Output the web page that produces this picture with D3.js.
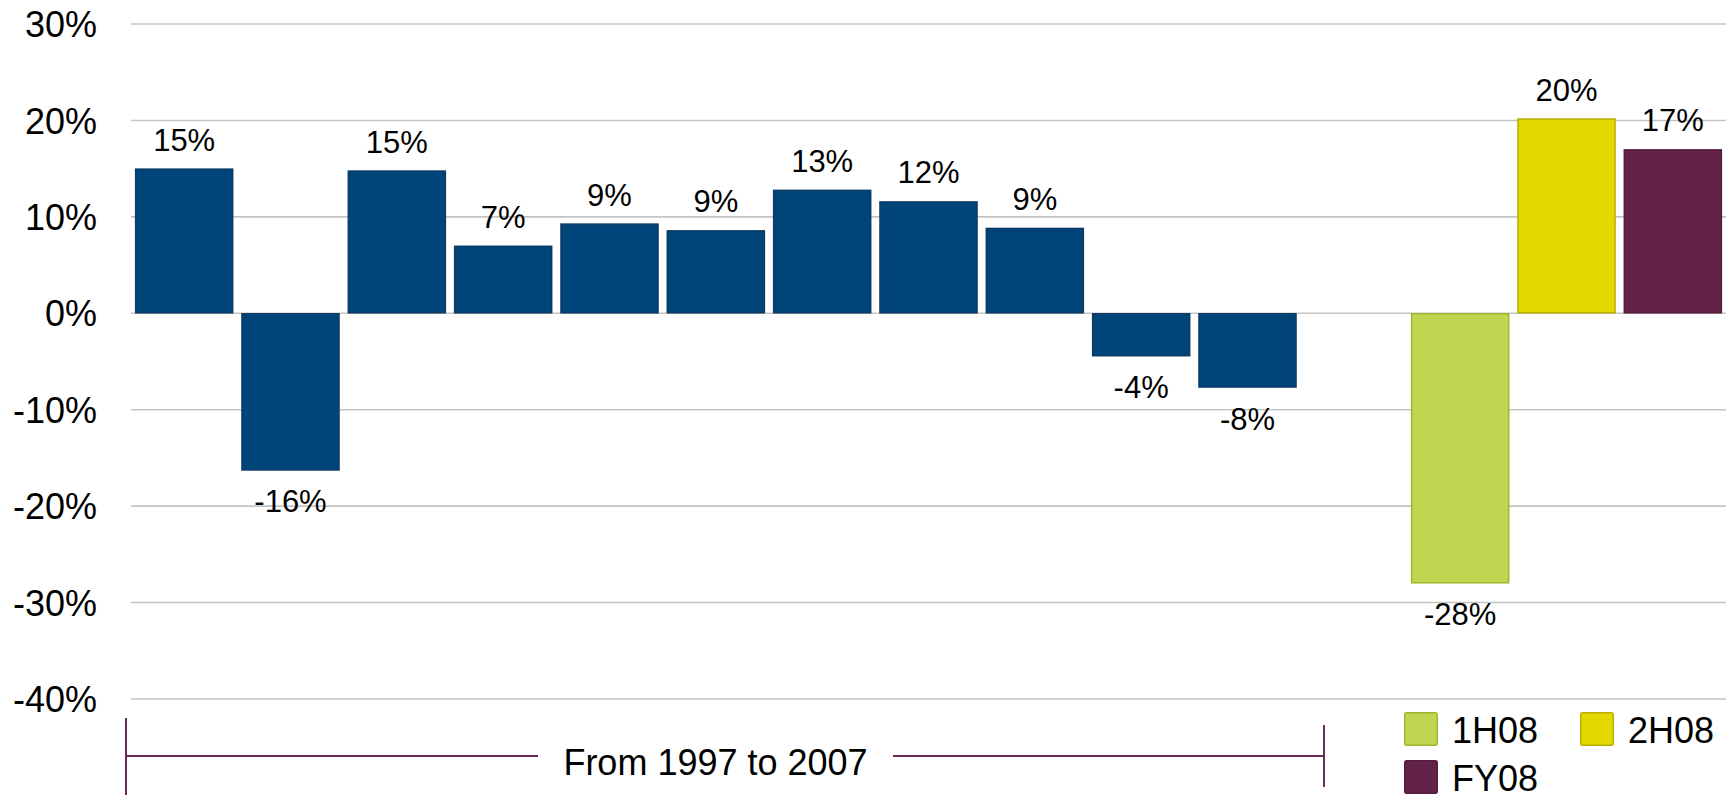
<!DOCTYPE html>
<html>
<head>
<meta charset="utf-8">
<script src="https://cdn.jsdelivr.net/npm/d3@7"></script>
<style>
  html, body { margin: 0; padding: 0; background: #ffffff; }
  svg { display: block; font-family: "Liberation Sans", Arial, sans-serif; }
</style>
</head>
<body>
<svg id="chart" width="1733" height="795"></svg>
<script>
// Yearly changes 1997–2007, then the 2008 half-years and full year
const years = ["1997", "1998", "1999", "2000", "2001", "2002", "2003", "2004", "2005", "2006", "2007"];
const yearValues = [0.150, -0.163, 0.148, 0.070, 0.093, 0.086, 0.128, 0.116, 0.0885, -0.0445, -0.077];

const periods = ["1H08", "2H08", "FY08"];
const periodValues = [-0.280, 0.202, 0.170];

const yTicks = [0.3, 0.2, 0.1, 0, -0.1, -0.2, -0.3, -0.4];
const rangeLabel = "From 1997 to 2007";

const colors = {
  years: { fill: "#00457a", stroke: "#0b3a64" },
  "1H08": { fill: "#c0d651", stroke: "#9fb62e" },
  "2H08": { fill: "#e3d800", stroke: "#b9ad00" },
  "FY08": { fill: "#632248", stroke: "#551d3d" }
};

// one empty slot separates the yearly run from the 2008 bars
const slots = [...years, "gap", ...periods];
const bars = [
  ...years.map((k, i) => ({ key: k, value: yearValues[i], style: colors.years })),
  ...periods.map((k, i) => ({ key: k, value: periodValues[i], style: colors[k] }))
];

const svg = d3.select("#chart");
const plotLeft = 131, plotRight = 1726, plotTop = 24, plotBottom = 699;

const x = d3.scaleBand().domain(slots).range([plotLeft, plotRight])
  .paddingInner(0.078).paddingOuter(0.039);
const y = d3.scaleLinear().domain([-0.4, 0.3]).range([plotBottom, plotTop]);

// percentages with a plain hyphen as the minus sign
const locale = d3.formatLocale({ decimal: ".", thousands: ",", grouping: [3], currency: ["$", ""], minus: "-" });
const pct = locale.format(".0%");

// horizontal gridlines
svg.append("g").selectAll("line").data(yTicks).join("line")
  .attr("x1", plotLeft).attr("x2", plotRight)
  .attr("y1", d => y(d)).attr("y2", d => y(d))
  .attr("stroke", "#c4c4c4").attr("stroke-width", 1.6);

// y axis labels
const yAxis = d3.axisLeft(y).tickValues(yTicks).tickFormat(pct).tickSize(0).tickPadding(0);
const ga = svg.append("g").attr("transform", "translate(97,0)").call(yAxis);
ga.select(".domain").remove();
ga.selectAll("text")
  .attr("font-family", "Liberation Sans, Arial, sans-serif")
  .attr("font-size", 36).attr("fill", "#000").attr("dy", "0.35em");

// bars
svg.append("g").selectAll("rect").data(bars).join("rect")
  .attr("x", d => x(d.key) + 0.5)
  .attr("width", x.bandwidth() - 1)
  .attr("y", d => Math.min(y(d.value), y(0)) + 0.5)
  .attr("height", d => Math.abs(y(d.value) - y(0)) - 1)
  .attr("fill", d => d.style.fill)
  .attr("stroke", d => d.style.stroke).attr("stroke-width", 1.5);

// value labels
svg.append("g").selectAll("text").data(bars).join("text")
  .attr("x", d => x(d.key) + x.bandwidth() / 2)
  .attr("y", d => d.value >= 0 ? y(d.value) - 18 : y(d.value) + 42)
  .attr("text-anchor", "middle")
  .attr("font-size", 31).attr("fill", "#000")
  .text(d => pct(d.value));

// bracket under the yearly bars
const bx0 = 126, bx1 = 1324, by = 756;
const br = svg.append("g").attr("stroke", "#6a2a55").attr("stroke-width", 2).attr("fill", "none");
br.append("line").attr("x1", bx0).attr("x2", bx0).attr("y1", 718).attr("y2", 795);
br.append("line").attr("x1", bx1).attr("x2", bx1).attr("y1", 725).attr("y2", 787);
br.append("line").attr("x1", bx0).attr("x2", 538).attr("y1", by).attr("y2", by);
br.append("line").attr("x1", 893).attr("x2", bx1).attr("y1", by).attr("y2", by);
svg.append("text")
  .attr("x", (538 + 893) / 2).attr("y", 775)
  .attr("text-anchor", "middle").attr("font-size", 36).attr("fill", "#000")
  .text(rangeLabel);

// legend
const legendPos = [
  { key: "1H08", x: 1404, y: 712 },
  { key: "2H08", x: 1580, y: 712 },
  { key: "FY08", x: 1404, y: 760 }
];
const lg = svg.append("g").selectAll("g").data(legendPos).join("g")
  .attr("transform", d => `translate(${d.x},${d.y})`);
lg.append("rect")
  .attr("x", 0.75).attr("y", 0.75).attr("width", 32.5).attr("height", 32.5).attr("rx", 2)
  .attr("fill", d => colors[d.key].fill)
  .attr("stroke", d => colors[d.key].stroke).attr("stroke-width", 1.5);
lg.append("text")
  .attr("x", 48).attr("y", 31)
  .attr("font-size", 36).attr("fill", "#000")
  .text(d => d.key);
</script>
</body>
</html>
